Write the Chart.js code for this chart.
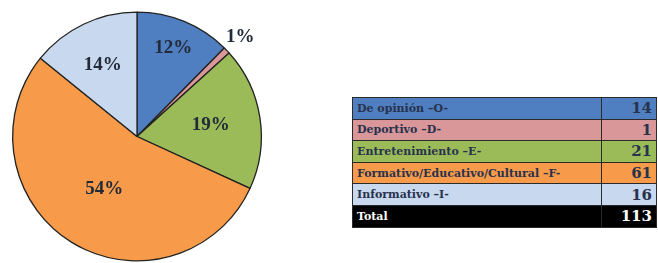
<!DOCTYPE html>
<html>
<head>
<meta charset="utf-8">
<script src="https://cdn.jsdelivr.net/npm/chart.js@4"></script>
<style>
  html, body { margin: 0; padding: 0; background: #fff; overflow: hidden; }
  body { width: 658px; height: 263px; position: relative; }
  #pieWrap { position: absolute; left: 0; top: 0; width: 290px; height: 263px; }
  #dataTable {
    position: absolute; left: 352px; top: 97px; width: 305px;
    border-collapse: collapse; font-family: "DejaVu Serif", serif;
    border: 1.5px solid #2a2a2a;
  }
  #dataTable td { height: 20.6px; padding: 0 4px; border: 1px solid #2a2a2a; color: #27324d; }
  #dataTable td.name { font-size: 11px; font-weight: bold; width: 240px; }
  #dataTable td.num { font-size: 15px; font-weight: bold; text-align: right; }
  #dataTable tr.total td { background: #000; color: #fff; }
</style>
</head>
<body>
<div id="pieWrap"><canvas id="pieChart"></canvas></div>
<table id="dataTable"></table>

<script>
// Data
const categories = [
  "De opinión –O-",
  "Deportivo –D-",
  "Entretenimiento –E-",
  "Formativo/Educativo/Cultural –F-",
  "Informativo –I-",
];
const counts = [14, 1, 21, 61, 16];
const percentLabels = ["12%", "1%", "19%", "54%", "14%"];
const totalLabel = "Total";
const totalCount = 113;

// Colours for slices and table rows
const sliceColors = ["#4f7fc0", "#d9979a", "#9bbb59", "#f79b4a", "#c7d8ef"];
const rowColors = ["#4f7fc0", "#d9979a", "#9bbb59", "#f79b4a", "#c7d8ef"];

// Draw percentage labels on the slices
const pieLabels = {
  id: "pieLabels",
  afterDatasetsDraw(chart, args, opts) {
    const ctx = chart.ctx;
    const meta = chart.getDatasetMeta(0);
    ctx.save();
    ctx.font = "bold 19px 'Liberation Serif', serif";
    ctx.fillStyle = "#232a38";
    ctx.textAlign = "center";
    ctx.textBaseline = "middle";
    meta.data.forEach((arc, i) => {
      const p = arc.getProps(["x", "y", "startAngle", "endAngle", "outerRadius"], true);
      const mid = (p.startAngle + p.endAngle) / 2;
      const r = p.outerRadius * opts.radial[i];
      ctx.fillText(percentLabels[i], p.x + Math.cos(mid) * r, p.y + Math.sin(mid) * r);
    });
    ctx.restore();
  },
};

function initPie() {
  const ctx = document.getElementById("pieChart").getContext("2d");
  new Chart(ctx, {
    type: "pie",
    data: {
      labels: categories,
      datasets: [
        {
          data: counts,
          backgroundColor: sliceColors,
          borderColor: "#222222",
          borderWidth: 1.3,
        },
      ],
    },
    options: {
      responsive: true,
      maintainAspectRatio: false,
      animation: false,
      layout: { padding: { left: 12, right: 28, top: 11, bottom: 1 } },
      plugins: {
        legend: { display: false },
        tooltip: { enabled: false },
        pieLabels: { radial: [0.77, 1.15, 0.6, 0.5, 0.64] },
      },
    },
    plugins: [pieLabels],
  });
}

function buildTable() {
  const table = document.getElementById("dataTable");
  categories.forEach((name, i) => {
    const tr = document.createElement("tr");
    tr.style.background = rowColors[i];
    tr.innerHTML = `<td class="name">${name}</td><td class="num">${counts[i]}</td>`;
    table.appendChild(tr);
  });
  const tr = document.createElement("tr");
  tr.className = "total";
  tr.innerHTML = `<td class="name">${totalLabel}</td><td class="num">${totalCount}</td>`;
  table.appendChild(tr);
}

initPie();
buildTable();
</script>
</body>
</html>
